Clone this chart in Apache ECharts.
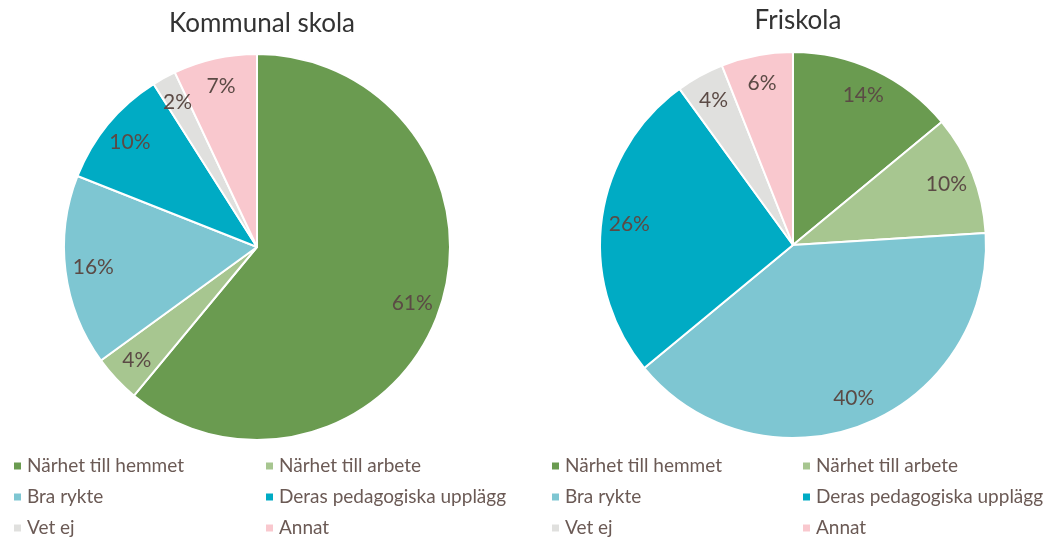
<!DOCTYPE html>
<html>
<head>
<meta charset="utf-8">
<script src="https://cdn.jsdelivr.net/npm/echarts@6/dist/echarts.min.js"></script>
<style>
  html, body { margin: 0; padding: 0; background: #fff; }
  #pie { width: 1049px; height: 539px; }
</style>
</head>
<body>
<div id="pie"></div>
<script>
  // reasons, same order in both pies (clockwise from 12 o'clock)
  var categories = [
    "Närhet till hemmet",
    "Närhet till arbete",
    "Bra rykte",
    "Deras pedagogiska upplägg",
    "Vet ej",
    "Annat"
  ];
  var colors = ["#6A9B50", "#A7C690", "#7EC6D2", "#00ABC4", "#E0E0DE", "#F9C8CE"];
  var titles = ["Kommunal skola", "Friskola"];
  var kommunalValues = [61, 4, 16, 10, 2, 7];
  var friskolaValues = [14, 10, 40, 26, 4, 6];

  var font = "Lato, 'Open Sans', sans-serif";
  var myChart = echarts.init(document.getElementById("pie"));

  let toData = (vals) => categories.map((c, i) => ({ name: c, value: vals[i] }));

  let pieSeries = (vals, center) => ({
    type: "pie",
    center: center,
    radius: [0, 193],
    startAngle: 90,
    clockwise: true,
    label: { show: false },
    labelLine: { show: false },
    emphasis: { disabled: true },
    itemStyle: { borderColor: "#fff", borderWidth: 2 },
    data: toData(vals)
  });

  // transparent ring only used to put the % labels near the rim
  let labelSeries = (vals, center) => ({
    type: "pie",
    center: center,
    radius: [131, 193],
    startAngle: 90,
    silent: true,
    itemStyle: { color: "transparent" },
    label: {
      show: true,
      position: "inside",
      formatter: "{c}%",
      color: "#5B4A45",
      fontSize: 21,
      fontFamily: font
    },
    labelLine: { show: false },
    data: toData(vals)
  });

  let legendCol = (names, left) => ({
    orient: "vertical",
    left: left,
    top: 456,
    padding: 0,
    itemWidth: 9,
    itemHeight: 9,
    itemGap: 11,
    icon: "rect",
    selectedMode: false,
    textStyle: { color: "#6B5A55", fontSize: 19, fontFamily: font, lineHeight: 20 },
    data: names
  });

  var col1 = [categories[0], categories[2], categories[4]];
  var col2 = [categories[1], categories[3], categories[5]];

  var option = {
    color: colors,
    animation: false,
    title: [
      { text: titles[0], left: 257, top: 6, textAlign: "center",
        textStyle: { color: "#333", fontSize: 26, fontWeight: "normal", fontFamily: font } },
      { text: titles[1], left: 793, top: 3, textAlign: "center",
        textStyle: { color: "#333", fontSize: 26, fontWeight: "normal", fontFamily: font } }
    ],
    legend: [
      legendCol(col1, 12),
      legendCol(col2, 264),
      legendCol(col1, 550),
      legendCol(col2, 801)
    ],
    series: [
      pieSeries(kommunalValues, [257, 247]),
      pieSeries(friskolaValues, [793, 245]),
      labelSeries(kommunalValues, [257, 247]),
      labelSeries(friskolaValues, [793, 245])
    ]
  };
  myChart.setOption(option);
</script>
</body>
</html>
